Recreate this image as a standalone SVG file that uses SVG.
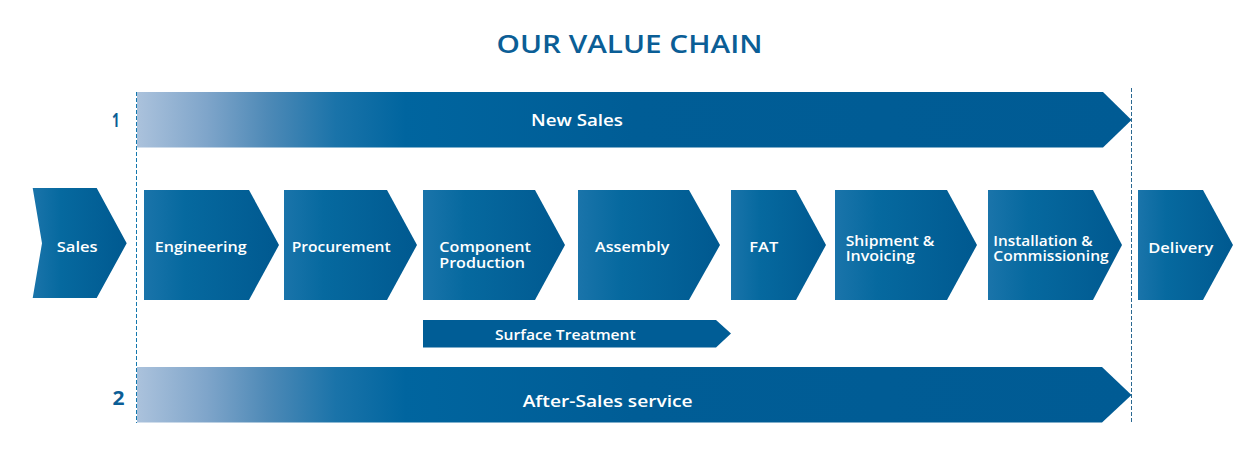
<svg xmlns="http://www.w3.org/2000/svg" width="1256" height="458" viewBox="0 0 1256 458">
  <defs>
    <linearGradient id="barGrad" gradientUnits="userSpaceOnUse" x1="137" y1="0" x2="1131" y2="0">
      <stop offset="0" stop-color="#abc2dc"/>
      <stop offset="0.07" stop-color="#7fa5ca"/>
      <stop offset="0.13" stop-color="#4f8ab7"/>
      <stop offset="0.2" stop-color="#1a73a9"/>
      <stop offset="0.27" stop-color="#00659f"/>
      <stop offset="0.5" stop-color="#005d96"/>
      <stop offset="1" stop-color="#005b94"/>
    </linearGradient>
    <linearGradient id="chevGrad" x1="0" y1="0" x2="1" y2="0">
      <stop offset="0" stop-color="#1a74aa"/>
      <stop offset="0.3" stop-color="#06699f"/>
      <stop offset="1" stop-color="#005990"/>
    </linearGradient>
    <style>
      .chev { fill: url(#chevGrad); }
      .bar { fill: url(#barGrad); }
      .lbl { font-family: "Open Sans", "Liberation Sans", sans-serif; font-weight: 600; fill: #ffffff; font-size: 15px; }
      .two { font-size: 14px; }
      .big { font-size: 17px; }
      .num { font-family: "Open Sans", "Liberation Sans", sans-serif; font-weight: 700; fill: #0b5e96; font-size: 20px; }
      .title { font-family: "Open Sans", "Liberation Sans", sans-serif; font-weight: 600; fill: #0b5e96; font-size: 26px; }
    </style>
  </defs>

  <text class="title" x="496.5" y="53.3" textLength="266" lengthAdjust="spacingAndGlyphs">OUR VALUE CHAIN</text>

  <g id="connectors">
    <line x1="136.5" y1="92" x2="136.5" y2="423" stroke="#1478ad" stroke-width="1" stroke-dasharray="4 2"/>
    <line x1="1131.5" y1="88" x2="1131.5" y2="423" stroke="#2a6891" stroke-width="1" stroke-dasharray="4 2"/>
  </g>

  <g id="num1"><text class="num" x="112" y="126.7" textLength="7.5" lengthAdjust="spacingAndGlyphs">1</text></g>
  <g id="num2"><text class="num" x="112.5" y="405" textLength="12" lengthAdjust="spacingAndGlyphs">2</text></g>

  <g id="new-sales">
    <polygon class="bar" points="137,92 1103,92 1131.5,120 1103,147.5 137,147.5"/>
    <text class="lbl big" x="531" y="126" textLength="92" lengthAdjust="spacingAndGlyphs">New Sales</text>
  </g>

  <g id="after-sales">
    <polygon class="bar" points="137,367 1102,367 1131.5,395 1102,422.5 137,422.5"/>
    <text class="lbl big" x="522.7" y="406.7" textLength="170" lengthAdjust="spacingAndGlyphs">After-Sales service</text>
  </g>

  <g id="sales">
    <polygon class="chev" points="32.7,188 96.7,188 126.7,243.3 96.7,298 32.7,298 42,243.3"/>
    <text class="lbl" x="56.7" y="251.7" textLength="41" lengthAdjust="spacingAndGlyphs">Sales</text>
  </g>

  <g id="engineering">
    <polygon class="chev" points="144,190 249,190 279,245 249,300 144,300"/>
    <text class="lbl" x="154.7" y="252.3" textLength="92" lengthAdjust="spacingAndGlyphs">Engineering</text>
  </g>

  <g id="procurement">
    <polygon class="chev" points="284,190 387,190 417,245 387,300 284,300"/>
    <text class="lbl" x="291.7" y="252.3" textLength="99" lengthAdjust="spacingAndGlyphs">Procurement</text>
  </g>

  <g id="component-production">
    <polygon class="chev" points="423,190 535,190 565,245 535,300 423,300"/>
    <text class="lbl two"><tspan x="439.3" y="252.3" textLength="91.7" lengthAdjust="spacingAndGlyphs">Component</tspan><tspan x="439.3" y="267.7" textLength="85.7" lengthAdjust="spacingAndGlyphs">Production</tspan></text>
  </g>

  <g id="assembly">
    <polygon class="chev" points="578,190 689,190 720,245 689,300 578,300"/>
    <text class="lbl" x="595" y="252.3" textLength="74.3" lengthAdjust="spacingAndGlyphs">Assembly</text>
  </g>

  <g id="fat">
    <polygon class="chev" points="731,190 796,190 826,245 796,300 731,300"/>
    <text class="lbl" x="749.3" y="252.3" textLength="29" lengthAdjust="spacingAndGlyphs">FAT</text>
  </g>

  <g id="shipment-invoicing">
    <polygon class="chev" points="835,190 947,190 977,245 947,300 835,300"/>
    <text class="lbl two"><tspan x="845.7" y="245.7" textLength="88.6" lengthAdjust="spacingAndGlyphs">Shipment &amp;</tspan><tspan x="845.7" y="261" textLength="69.3" lengthAdjust="spacingAndGlyphs">Invoicing</tspan></text>
  </g>

  <g id="installation-commissioning">
    <polygon class="chev" points="988,190 1093,190 1122,245 1093,300 988,300"/>
    <text class="lbl two"><tspan x="993.3" y="245.7" textLength="99.4" lengthAdjust="spacingAndGlyphs">Installation &amp;</tspan><tspan x="993.3" y="261" textLength="115.4" lengthAdjust="spacingAndGlyphs">Commissioning</tspan></text>
  </g>

  <g id="delivery">
    <polygon class="chev" points="1138,190 1203,190 1233,245 1203,300 1138,300"/>
    <text class="lbl" x="1148.3" y="253.3" textLength="65" lengthAdjust="spacingAndGlyphs">Delivery</text>
  </g>

  <g id="surface-treatment">
    <polygon fill="#005d96" points="423,320 716,320 731,333.5 716,347.5 423,347.5"/>
    <text class="lbl" x="495" y="340" textLength="140.7" lengthAdjust="spacingAndGlyphs">Surface Treatment</text>
  </g>
</svg>
